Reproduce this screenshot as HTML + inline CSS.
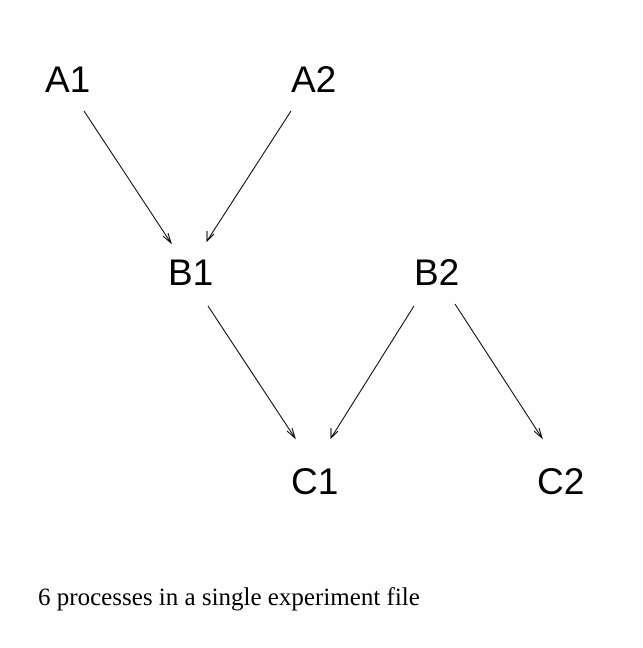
<!DOCTYPE html>
<html><head><style>body{margin:0;background:#fff}</style></head><body>
<svg width="643" height="643" xmlns="http://www.w3.org/2000/svg">
<rect width="643" height="643" fill="#fefefe"/>
<g font-family="Liberation Sans, sans-serif" font-size="37" fill="#000">
<text x="45" y="92">A1</text>
<text x="291" y="92">A2</text>
<text x="168" y="285">B1</text>
<text x="414" y="285">B2</text>
<text x="291" y="494">C1</text>
<text x="537" y="494">C2</text>
</g>
<g stroke="#000" stroke-width="1" fill="none">
<path d="M84,111 L171,243"/><path d="M163,236 L171,243 L168,233"/>
<path d="M291,111 L207,241"/><path d="M207,231 L207,241 L214,234"/>
<path d="M208,306 L295,438"/><path d="M287,431 L295,438 L292,428"/>
<path d="M414,306 L331,438"/><path d="M331,428 L331,438 L338,431"/>
<path d="M455,304 L542,438"/><path d="M534,431 L542,438 L539,428"/>
</g>
<text x="38" y="605" font-family="Liberation Serif, serif" font-size="25" fill="#000">6 processes in a single experiment file</text>
</svg>
</body></html>
